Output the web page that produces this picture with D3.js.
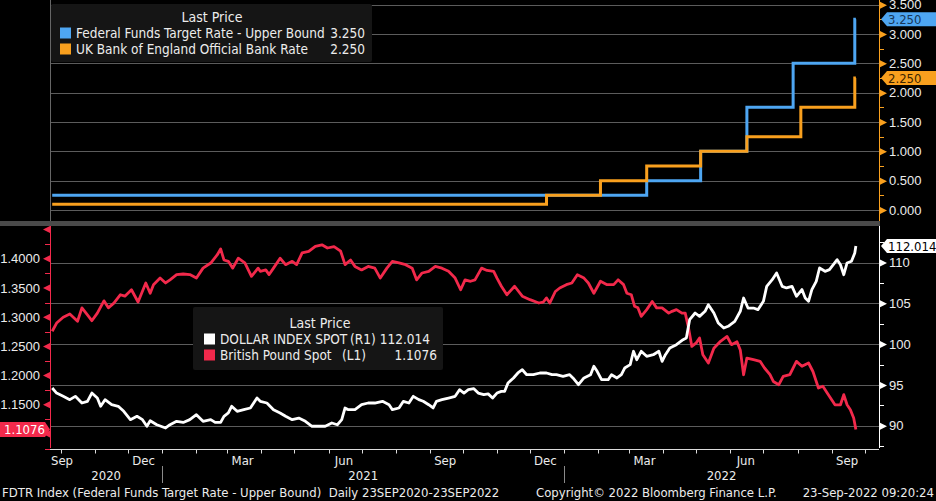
<!DOCTYPE html>
<html>
<head>
<meta charset="utf-8">
<script src="https://cdn.jsdelivr.net/npm/d3@7"></script>
<style>
    body { margin: 0; background: #000; }
    svg { display: block; font-family: "DejaVu Sans Condensed", "Liberation Sans", sans-serif; }
</style>
</head>
<body>
<svg></svg>
<script>
// policy rates (step series)
const fedDates = ['2020-09-23', '2022-03-17', '2022-05-05', '2022-06-16', '2022-07-28', '2022-09-22', '2022-09-23'];
const fedRates = [0.25, 0.5, 1.0, 1.75, 2.5, 3.25, 3.25];
const boeDates = ['2020-09-23', '2021-12-16', '2022-02-03', '2022-03-17', '2022-05-05', '2022-06-16', '2022-08-04', '2022-09-22', '2022-09-23'];
const boeRates = [0.1, 0.25, 0.5, 0.75, 1.0, 1.25, 1.75, 2.25, 2.25];

// British pound spot (left axis)
const gbpDates = [
    '2020-09-23', '2020-09-27', '2020-10-03', '2020-10-09', '2020-10-16', '2020-10-20', '2020-10-25', '2020-10-29', '2020-11-03', '2020-11-09',
    '2020-11-13', '2020-11-18', '2020-11-24', '2020-11-28', '2020-12-04', '2020-12-10', '2020-12-17', '2020-12-21', '2020-12-24', '2020-12-30',
    '2021-01-04', '2021-01-08', '2021-01-14', '2021-01-20', '2021-01-26', '2021-02-01', '2021-02-07', '2021-02-14', '2021-02-20', '2021-02-23',
    '2021-02-26', '2021-03-02', '2021-03-06', '2021-03-11', '2021-03-17', '2021-03-23', '2021-03-29', '2021-03-31', '2021-04-05', '2021-04-08',
    '2021-04-12', '2021-04-18', '2021-04-23', '2021-04-29', '2021-05-03', '2021-05-08', '2021-05-14', '2021-05-20', '2021-05-26', '2021-05-31',
    '2021-06-06', '2021-06-12', '2021-06-16', '2021-06-21', '2021-06-25', '2021-07-01', '2021-07-07', '2021-07-13', '2021-07-18', '2021-07-24',
    '2021-07-29', '2021-08-04', '2021-08-10', '2021-08-16', '2021-08-20', '2021-08-25', '2021-08-31', '2021-09-06', '2021-09-12', '2021-09-18',
    '2021-09-24', '2021-09-29', '2021-10-03', '2021-10-08', '2021-10-12', '2021-10-18', '2021-10-23', '2021-10-29', '2021-11-01', '2021-11-05',
    '2021-11-10', '2021-11-17', '2021-11-24', '2021-12-01', '2021-12-09', '2021-12-13', '2021-12-16', '2021-12-19', '2021-12-24', '2021-12-28',
    '2022-01-03', '2022-01-08', '2022-01-13', '2022-01-19', '2022-01-23', '2022-01-28', '2022-02-03', '2022-02-09', '2022-02-15', '2022-02-19',
    '2022-02-24', '2022-02-27', '2022-03-03', '2022-03-06', '2022-03-09', '2022-03-12', '2022-03-17', '2022-03-22', '2022-03-26', '2022-03-31',
    '2022-04-06', '2022-04-09', '2022-04-13', '2022-04-18', '2022-04-21', '2022-04-24', '2022-04-27', '2022-05-01', '2022-05-04', '2022-05-07',
    '2022-05-12', '2022-05-17', '2022-05-23', '2022-05-29', '2022-06-02', '2022-06-07', '2022-06-10', '2022-06-13', '2022-06-16', '2022-06-22',
    '2022-06-28', '2022-07-02', '2022-07-07', '2022-07-10', '2022-07-15', '2022-07-19', '2022-07-25', '2022-07-31', '2022-08-05', '2022-08-11',
    '2022-08-15', '2022-08-20', '2022-08-24', '2022-08-29', '2022-09-04', '2022-09-09', '2022-09-12', '2022-09-15', '2022-09-18', '2022-09-21',
    '2022-09-23'
];
const gbpValues = [
    1.276, 1.290, 1.300, 1.3055, 1.293, 1.316, 1.304, 1.294, 1.307, 1.328,
    1.316, 1.324, 1.3385, 1.336, 1.347, 1.326, 1.3586, 1.341, 1.3557, 1.367,
    1.3586, 1.364, 1.3728, 1.374, 1.373, 1.367, 1.384, 1.3928, 1.407, 1.417,
    1.398, 1.3957, 1.384, 1.401, 1.393, 1.370, 1.384, 1.3786, 1.381, 1.373,
    1.384, 1.401, 1.390, 1.3957, 1.390, 1.410, 1.4128, 1.4214, 1.424, 1.4185,
    1.421, 1.413, 1.390, 1.398, 1.387, 1.381, 1.387, 1.384, 1.367, 1.384,
    1.3957, 1.393, 1.390, 1.384, 1.364, 1.3757, 1.3786, 1.387, 1.384, 1.3786,
    1.367, 1.347, 1.364, 1.3615, 1.364, 1.384, 1.380, 1.3786, 1.367, 1.353,
    1.3385, 1.353, 1.336, 1.330, 1.3243, 1.326, 1.333, 1.3243, 1.344, 1.350,
    1.3557, 1.3586, 1.3728, 1.367, 1.3586, 1.341, 1.3615, 1.3557, 1.3557, 1.364,
    1.3557, 1.341, 1.3385, 1.3187, 1.316, 1.3015, 1.313, 1.327, 1.316, 1.316,
    1.307, 1.310, 1.313, 1.307, 1.307, 1.2815, 1.250, 1.256, 1.2644, 1.2358,
    1.2216, 1.247, 1.2587, 1.267, 1.253, 1.258, 1.244, 1.2015, 1.230, 1.2273,
    1.2244, 1.213, 1.2015, 1.190, 1.1844, 1.1988, 1.2015, 1.2244, 1.216, 1.2216,
    1.207, 1.1788, 1.1817, 1.1673, 1.150, 1.150, 1.1673, 1.150, 1.1416, 1.1274,
    1.1076
];

// Dollar index spot (right axis)
const dxyDates = [
    '2020-09-23', '2020-09-27', '2020-10-03', '2020-10-09', '2020-10-14', '2020-10-20', '2020-10-25', '2020-10-29', '2020-11-03', '2020-11-06',
    '2020-11-10', '2020-11-16', '2020-11-22', '2020-11-27', '2020-12-03', '2020-12-09', '2020-12-14', '2020-12-18', '2020-12-21', '2020-12-27',
    '2021-01-04', '2021-01-08', '2021-01-14', '2021-01-20', '2021-01-26', '2021-02-01', '2021-02-07', '2021-02-14', '2021-02-18', '2021-02-23',
    '2021-02-26', '2021-03-02', '2021-03-05', '2021-03-10', '2021-03-16', '2021-03-22', '2021-03-28', '2021-03-31', '2021-04-06', '2021-04-12',
    '2021-04-18', '2021-04-23', '2021-04-29', '2021-05-05', '2021-05-11', '2021-05-17', '2021-05-23', '2021-05-29', '2021-06-04', '2021-06-09',
    '2021-06-13', '2021-06-16', '2021-06-19', '2021-06-25', '2021-07-01', '2021-07-07', '2021-07-13', '2021-07-20', '2021-07-26', '2021-07-29',
    '2021-08-04', '2021-08-08', '2021-08-13', '2021-08-17', '2021-08-22', '2021-08-26', '2021-08-31', '2021-09-04', '2021-09-07', '2021-09-12',
    '2021-09-18', '2021-09-24', '2021-09-28', '2021-10-02', '2021-10-06', '2021-10-11', '2021-10-15', '2021-10-20', '2021-10-24', '2021-10-28',
    '2021-11-01', '2021-11-05', '2021-11-08', '2021-11-11', '2021-11-16', '2021-11-20', '2021-11-24', '2021-11-28', '2021-12-04', '2021-12-10',
    '2021-12-16', '2021-12-21', '2021-12-25', '2021-12-31',
    '2022-01-06', '2022-01-09', '2022-01-14', '2022-01-19', '2022-01-25', '2022-01-28', '2022-01-31', '2022-02-04', '2022-02-10', '2022-02-13',
    '2022-02-18', '2022-02-22', '2022-02-25', '2022-03-02', '2022-03-05', '2022-03-08', '2022-03-12', '2022-03-17', '2022-03-23', '2022-03-28',
    '2022-03-31', '2022-04-03', '2022-04-07', '2022-04-13', '2022-04-19', '2022-04-22', '2022-04-25', '2022-04-30', '2022-05-04', '2022-05-09',
    '2022-05-12', '2022-05-17', '2022-05-21', '2022-05-26', '2022-05-30', '2022-06-05', '2022-06-10', '2022-06-13', '2022-06-17', '2022-06-22',
    '2022-06-26', '2022-07-01', '2022-07-04', '2022-07-09', '2022-07-13', '2022-07-18', '2022-07-22', '2022-07-27', '2022-07-31', '2022-08-05',
    '2022-08-08', '2022-08-11', '2022-08-14', '2022-08-18', '2022-08-21', '2022-08-26', '2022-08-30', '2022-09-06', '2022-09-09', '2022-09-12',
    '2022-09-15', '2022-09-19', '2022-09-22', '2022-09-23'
];
const dxyValues = [
    94.62, 94.0, 93.6, 93.19, 93.6, 92.78, 92.99, 94.0, 93.39, 92.38,
    93.19, 92.57, 92.38, 91.76, 90.74, 91.15, 90.74, 89.93, 90.61, 90.12,
    89.72, 90.12, 90.54, 90.4, 90.74, 91.35, 90.54, 90.74, 90.4, 90.4,
    91.15, 91.56, 92.38, 91.76, 91.96, 92.17, 93.39, 92.99, 92.78, 91.96,
    91.56, 91.15, 90.74, 90.94, 90.54, 89.93, 89.93, 89.93, 90.33, 90.12,
    90.74, 92.17, 91.96, 91.96, 92.57, 92.78, 92.78, 92.99, 92.57, 91.96,
    92.17, 92.99, 92.78, 93.6, 93.19, 92.99, 92.57, 92.17, 92.99, 93.19,
    93.39, 93.6, 94.41, 94.0, 94.41, 94.53, 94.0, 93.8, 93.9, 93.39,
    94.0, 94.21, 94.21, 95.23, 95.85, 96.46, 96.86, 96.25, 96.25, 96.46,
    96.46, 96.25, 96.25, 96.05,
    96.25, 95.85, 95.02, 95.85, 96.25, 97.28, 96.66, 95.64, 95.64, 96.25,
    95.85, 96.25, 97.07, 97.48, 99.12, 98.09, 99.12, 98.5, 98.7, 99.12,
    97.89, 98.7, 99.52, 99.93, 100.54, 100.74, 102.99, 103.81, 103.4, 104.02,
    104.83, 103.81, 102.59, 101.97, 102.18, 102.79, 104.02, 105.65, 104.42, 104.42,
    104.22, 105.24, 107.08, 107.89, 108.71, 107.08, 106.88, 107.08, 105.86, 106.68,
    105.65, 105.24, 106.67, 107.69, 109.33, 108.92, 109.12, 110.34, 109.73, 108.5,
    109.94, 110.15, 111.16, 112.014
];

// ticks and labels
const rateTicks = [0, 0.5, 1, 1.5, 2, 2.5, 3, 3.5];
const gbpTicks = [1.1, 1.15, 1.2, 1.25, 1.3, 1.35, 1.4, 1.45];
const gbpLabels = [1.15, 1.2, 1.25, 1.3, 1.35, 1.4];
const dxyTicks = [90, 95, 100, 105, 110];
const quarterDates = ['2020-09-15', '2020-12-15', '2021-03-15', '2021-06-15', '2021-09-15', '2021-12-15', '2022-03-15', '2022-06-15', '2022-09-15'];
const quarterNames = ['Sep', 'Dec', 'Mar', 'Jun', 'Sep', 'Dec', 'Mar', 'Jun', 'Sep'];
const yearStarts = ['2020-01-01', '2021-01-01', '2022-01-01', '2023-01-01'];
const yearNames = ['2020', '2021', '2022'];

let width = 936;
let height = 501;
let left = 50;
let right = 879;
let topBottom = 221;
let botTop = 226;
let botBottom = 448;

let blue = '#4ea6f2';
let orange = '#f9a01e';
let red = '#f2294b';
let white = '#ffffff';
let grid = '#5c5c5c';
let textColor = '#ececec';

let parse = d3.utcParse('%Y-%m-%d');
let svg = d3.select('svg').attr('width', width).attr('height', height);

let xScale = d3.scaleUtc()
    .domain([parse('2020-09-21'), parse('2022-10-14')])
    .range([left, right]);
let yRate = d3.scaleLinear().domain([0, 3.5]).range([210, 4.7]);
let yGbp = d3.scaleLinear().domain([1.1, 1.4]).range([434, 258.8]);
let yDxy = d3.scaleLinear().domain([90, 110]).range([425.7, 262.5]);

let zip = (dates, vals) => dates.map((d, i) => ({ date: parse(d), value: vals[i] }));

let drawGrid = () => {
    svg.append('rect').attr('width', width).attr('height', height).attr('fill', '#000');

    svg.append('g').selectAll('line')
        .data(rateTicks)
        .enter()
        .append('line')
        .attr('x1', left).attr('x2', right)
        .attr('y1', (d) => Math.round(yRate(d)) + 0.5)
        .attr('y2', (d) => Math.round(yRate(d)) + 0.5)
        .attr('stroke', grid);

    svg.append('g').selectAll('line')
        .data(dxyTicks)
        .enter()
        .append('line')
        .attr('x1', left).attr('x2', right)
        .attr('y1', (d) => Math.round(yDxy(d)) + 0.5)
        .attr('y2', (d) => Math.round(yDxy(d)) + 0.5)
        .attr('stroke', grid);

    // panel separator
    svg.append('rect').attr('x', 0).attr('y', topBottom).attr('width', right + 1).attr('height', botTop - topBottom).attr('fill', '#4a4a4a');

    svg.append('line').attr('x1', left + 0.5).attr('x2', left + 0.5).attr('y1', 0).attr('y2', topBottom).attr('stroke', '#666');
};

let drawLines = () => {
    let stepLine = d3.line()
        .x((d) => xScale(d.date))
        .y((d) => yRate(d.value))
        .curve(d3.curveStepAfter);

    svg.append('path').datum(zip(fedDates, fedRates))
        .attr('d', stepLine).attr('fill', 'none').attr('stroke', blue).attr('stroke-width', 3);
    svg.append('path').datum(zip(boeDates, boeRates))
        .attr('d', stepLine).attr('fill', 'none').attr('stroke', orange).attr('stroke-width', 3);

    svg.append('clipPath').attr('id', 'bot')
        .append('rect').attr('x', left).attr('y', botTop).attr('width', right - left).attr('height', botBottom - botTop);

    let gbpLine = d3.line().x((d) => xScale(d.date)).y((d) => yGbp(d.value));
    let dxyLine = d3.line().x((d) => xScale(d.date)).y((d) => yDxy(d.value));

    svg.append('path').datum(zip(gbpDates, gbpValues))
        .attr('d', gbpLine).attr('clip-path', 'url(#bot)')
        .attr('fill', 'none').attr('stroke', red).attr('stroke-width', 2.8).attr('stroke-linejoin', 'round');
    svg.append('path').datum(zip(dxyDates, dxyValues))
        .attr('d', dxyLine).attr('clip-path', 'url(#bot)')
        .attr('fill', 'none').attr('stroke', white).attr('stroke-width', 2.8).attr('stroke-linejoin', 'round');
};

let drawYAxes = () => {
    // top right axis (rates)
    let rateAxis = d3.axisRight(yRate).tickValues(rateTicks).tickFormat(d3.format('.3f')).tickSize(0).tickPadding(10);
    let g1 = svg.append('g').attr('transform', `translate(${right},0)`).call(rateAxis);
    g1.select('.domain').remove();
    g1.selectAll('text').attr('fill', textColor).attr('font-size', 13).attr('font-family', null);
    g1.selectAll('.tick').append('path').attr('d', 'M1,-3.5L8,0L1,3.5Z').attr('fill', orange);
    svg.append('g').selectAll('line')
        .data(d3.range(0.25, 3.5, 0.5))
        .enter().append('line')
        .attr('x1', right).attr('x2', right + 5)
        .attr('y1', (d) => Math.round(yRate(d)) + 0.5).attr('y2', (d) => Math.round(yRate(d)) + 0.5)
        .attr('stroke', orange);
    svg.append('line').attr('x1', right + 0.5).attr('x2', right + 0.5).attr('y1', 0).attr('y2', topBottom).attr('stroke', orange);

    // bottom right axis (dollar index)
    let dxyAxis = d3.axisRight(yDxy).tickValues(dxyTicks).tickFormat(d3.format('d')).tickSize(0).tickPadding(10);
    let g2 = svg.append('g').attr('transform', `translate(${right},0)`).call(dxyAxis);
    g2.select('.domain').remove();
    g2.selectAll('text').attr('fill', textColor).attr('font-size', 13).attr('font-family', null);
    g2.selectAll('.tick').append('path').attr('d', 'M1,-3.5L8,0L1,3.5Z').attr('fill', white);
    svg.append('g').selectAll('line')
        .data([87.5, 92.5, 97.5, 102.5, 107.5, 112.5])
        .enter().append('line')
        .attr('x1', right).attr('x2', right + 5)
        .attr('y1', (d) => Math.round(yDxy(d)) + 0.5).attr('y2', (d) => Math.round(yDxy(d)) + 0.5)
        .attr('stroke', white);
    svg.append('line').attr('x1', right + 0.5).attr('x2', right + 0.5).attr('y1', botTop).attr('y2', botBottom).attr('stroke', white);

    // bottom left axis (pound): markers on every tick, labels where the reference shows them
    svg.append('g').selectAll('path')
        .data(gbpTicks)
        .enter().append('path')
        .attr('transform', (d) => `translate(${left},${yGbp(d)})`)
        .attr('d', 'M0,-3.5L-7,0L0,3.5Z')
        .attr('fill', red);
    let gbpAxis = d3.axisLeft(yGbp).tickValues(gbpLabels).tickFormat(d3.format('.4f')).tickSize(0).tickPadding(10);
    let g3 = svg.append('g').attr('transform', `translate(${left},0)`).call(gbpAxis);
    g3.select('.domain').remove();
    g3.selectAll('text').attr('fill', textColor).attr('font-size', 13).attr('font-family', null);
    svg.append('g').selectAll('line')
        .data([1.075, 1.125, 1.175, 1.225, 1.275, 1.325, 1.375, 1.425])
        .enter().append('line')
        .attr('x1', left - 5).attr('x2', left)
        .attr('y1', (d) => Math.round(yGbp(d)) + 0.5).attr('y2', (d) => Math.round(yGbp(d)) + 0.5)
        .attr('stroke', red);
    svg.append('line').attr('x1', left + 0.5).attr('x2', left + 0.5).attr('y1', botTop).attr('y2', botBottom).attr('stroke', red);
};

let drawXAxis = () => {
    let y0 = 449.5;
    svg.append('line').attr('x1', left).attr('x2', right).attr('y1', y0).attr('y2', y0).attr('stroke', '#dcdcdc');

    let months = d3.utcMonth.range(parse('2020-10-01'), parse('2022-10-14'));
    svg.append('g').selectAll('line')
        .data(months)
        .enter().append('line')
        .attr('x1', (d) => Math.round(xScale(d)) + 0.5).attr('x2', (d) => Math.round(xScale(d)) + 0.5)
        .attr('y1', y0).attr('y2', y0 + 4)
        .attr('stroke', '#dcdcdc');

    svg.append('g').selectAll('text')
        .data(quarterDates)
        .enter().append('text')
        .attr('x', (d) => Math.max(xScale(parse(d)), left + 12))
        .attr('y', 465)
        .attr('text-anchor', 'middle')
        .attr('fill', textColor)
        .attr('font-size', 13)
        .text((d, i) => quarterNames[i]);

    svg.append('g').selectAll('text')
        .data(yearNames)
        .enter().append('text')
        .attr('x', (d, i) => {
            let a = Math.max(xScale(parse(yearStarts[i])), left);
            let b = Math.min(xScale(parse(yearStarts[i + 1])), right);
            return (a + b) / 2;
        })
        .attr('y', 480)
        .attr('text-anchor', 'middle')
        .attr('fill', textColor)
        .attr('font-size', 13)
        .text((d) => d);

    svg.append('g').selectAll('line')
        .data(yearStarts.slice(1, 3))
        .enter().append('line')
        .attr('x1', (d) => Math.round(xScale(parse(d))) + 0.5).attr('x2', (d) => Math.round(xScale(parse(d))) + 0.5)
        .attr('y1', 466).attr('y2', 483)
        .attr('stroke', '#8a8a8a');
};

let drawTags = () => {
    let rightTag = (y, fill, txt, txtFill) => {
        svg.append('path')
            .attr('d', `M${right + 2},${y}L${right + 8},${y - 7}L${width},${y - 7}L${width},${y + 7}L${right + 8},${y + 7}Z`)
            .attr('fill', fill);
        svg.append('text').attr('x', right + 9).attr('y', y + 4.5)
            .attr('fill', txtFill).attr('font-size', 13).text(txt);
    };
    rightTag(yRate(fedRates[fedRates.length - 1]), blue, '3.250', '#173759');
    rightTag(yRate(boeRates[boeRates.length - 1]), orange, '2.250', '#3d2500');
    rightTag(yDxy(dxyValues[dxyValues.length - 1]), white, '112.014', '#000');

    let y = yGbp(gbpValues[gbpValues.length - 1]);
    svg.append('path')
        .attr('d', `M0,${y - 7.5}L${left - 5},${y - 7.5}L${left},${y}L${left - 5},${y + 7.5}L0,${y + 7.5}Z`)
        .attr('fill', red);
    svg.append('text').attr('x', 4).attr('y', y + 4.5)
        .attr('fill', white).attr('font-size', 13).text('1.1076');
};

let drawLegends = () => {
    let fs = 13.5;
    let top = svg.append('g');
    top.append('rect').attr('x', 51).attr('y', 4).attr('width', 321).attr('height', 58).attr('rx', 2).attr('fill', '#151515');
    top.append('text').attr('x', 212).attr('y', 22).attr('text-anchor', 'middle').attr('fill', textColor).attr('font-size', 14).text('Last Price');
    let topRows = [
        ['Federal Funds Target Rate - Upper Bound', '3.250', blue],
        ['UK Bank of England Official Bank Rate', '2.250', orange],
    ];
    topRows.forEach((r, i) => {
        let yy = 33 + i * 16;
        top.append('rect').attr('x', 60).attr('y', yy - 5.5).attr('width', 11).attr('height', 11).attr('fill', r[2]);
        top.append('text').attr('x', 76).attr('y', yy + 4.5).attr('fill', textColor).attr('font-size', fs).text(r[0]);
        top.append('text').attr('x', 365).attr('y', yy + 4.5).attr('text-anchor', 'end').attr('fill', textColor).attr('font-size', fs).text(r[1]);
    });

    let bot = svg.append('g');
    bot.append('rect').attr('x', 193).attr('y', 307).attr('width', 250).attr('height', 63).attr('rx', 2).attr('fill', '#151515');
    bot.append('text').attr('x', 320).attr('y', 328).attr('text-anchor', 'middle').attr('fill', textColor).attr('font-size', 14).text('Last Price');
    let botRows = [
        ['DOLLAR INDEX SPOT', '(R1)', '112.014', white],
        ['British Pound Spot', '(L1)', '1.1076', red],
    ];
    botRows.forEach((r, i) => {
        let yy = 339 + i * 16;
        bot.append('rect').attr('x', 204).attr('y', yy - 5.5).attr('width', 11).attr('height', 11).attr('fill', r[3]);
        bot.append('text').attr('x', 220).attr('y', yy + 4.5).attr('fill', textColor).attr('font-size', fs).text(r[0]);
        bot.append('text').attr('x', i === 0 ? 350 : 342).attr('y', yy + 4.5).attr('fill', textColor).attr('font-size', fs).text(r[1]);
        bot.append('text').attr('x', i === 0 ? 430 : 437).attr('y', yy + 4.5).attr('text-anchor', 'end').attr('fill', textColor).attr('font-size', fs).text(r[2]);
    });
};

let drawFooter = () => {
    let f = svg.append('g').attr('fill', textColor).attr('font-size', 13);
    f.append('text').attr('x', 2).attr('y', 497).text('FDTR Index (Federal Funds Target Rate - Upper Bound)  Daily 23SEP2020-23SEP2022').attr('xml:space', 'preserve');
    f.append('text').attr('x', 536).attr('y', 497).text('Copyright\u00a9 2022 Bloomberg Finance L.P.');
    f.append('text').attr('x', 934).attr('y', 497).attr('text-anchor', 'end').text('23-Sep-2022 09:20:24');
};

drawGrid();
drawLines();
drawYAxes();
drawXAxis();
drawTags();
drawLegends();
drawFooter();
</script>
</body>
</html>
